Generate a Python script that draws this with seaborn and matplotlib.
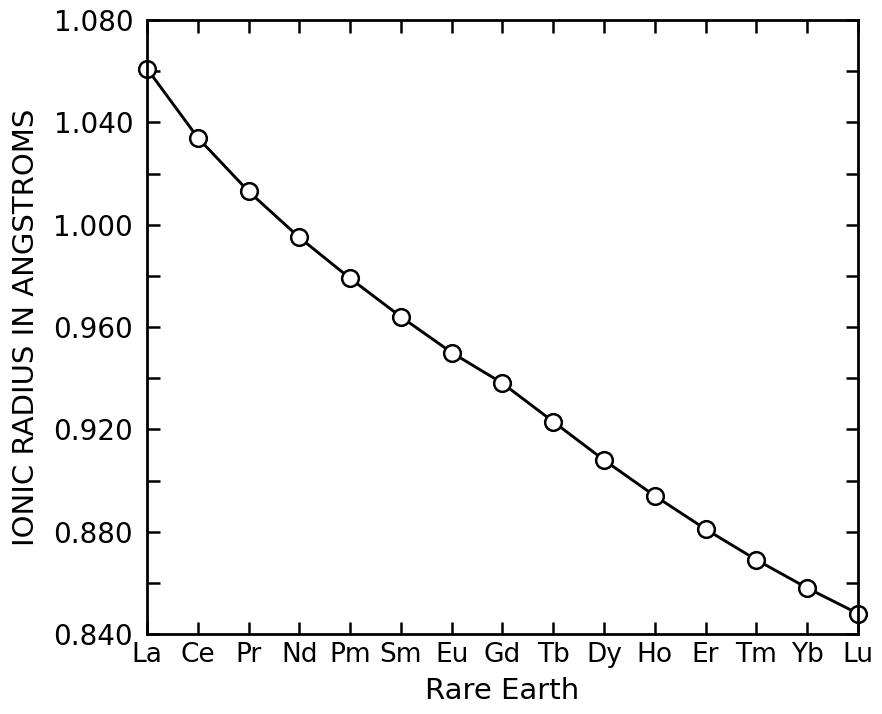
import pandas as pd
import matplotlib
matplotlib.use("Agg")
import matplotlib.pyplot as plt
import seaborn as sns
from matplotlib.ticker import MultipleLocator, FormatStrFormatter

sns.set_style("ticks")
plt.rcParams["font.family"] = ["DejaVu Sans"]
plt.rcParams["text.color"] = "black"
plt.rcParams["axes.labelcolor"] = "black"
plt.rcParams["xtick.color"] = "black"
plt.rcParams["ytick.color"] = "black"

# rare earth elements and their ionic radii (angstroms)
elements = ["La", "Ce", "Pr", "Nd", "Pm", "Sm", "Eu", "Gd",
            "Tb", "Dy", "Ho", "Er", "Tm", "Yb", "Lu"]
radius = [1.061, 1.034, 1.013, 0.995, 0.979, 0.964, 0.950, 0.938,
          0.923, 0.908, 0.894, 0.881, 0.869, 0.858, 0.848]

df = pd.DataFrame({"pos": range(len(elements)), "element": elements, "radius": radius})

fig = plt.figure(figsize=(8.82, 7.14), dpi=100)
ax = fig.add_axes([0.1667, 0.112, 0.806, 0.860])

sns.lineplot(
    data=df, x="pos", y="radius", ax=ax,
    color="black", linewidth=2.1, marker="o", markersize=12,
    markerfacecolor="white", markeredgecolor="black", markeredgewidth=1.8,
    sort=False, clip_on=False,
)

ax.set_xlim(0, len(elements) - 1)
ax.set_ylim(0.840, 1.080)
ax.set_xticks(df["pos"])
ax.set_xticklabels(elements)
ax.yaxis.set_major_locator(MultipleLocator(0.040))
ax.yaxis.set_minor_locator(MultipleLocator(0.020))
ax.yaxis.set_major_formatter(FormatStrFormatter("%.3f"))

ax.tick_params(axis="both", which="both", direction="in", top=True, right=True,
               length=9, width=1.8, labelsize=19, pad=6)
ax.tick_params(axis="y", which="major", labelsize=20, pad=10)
for s in ax.spines.values():
    s.set_linewidth(2)
    s.set_color("black")

ax.set_xlabel("Rare Earth", fontsize=21, labelpad=6)
ax.set_ylabel("IONIC RADIUS IN ANGSTROMS", fontsize=21, labelpad=10)

fig.savefig("out.png", dpi=100)
